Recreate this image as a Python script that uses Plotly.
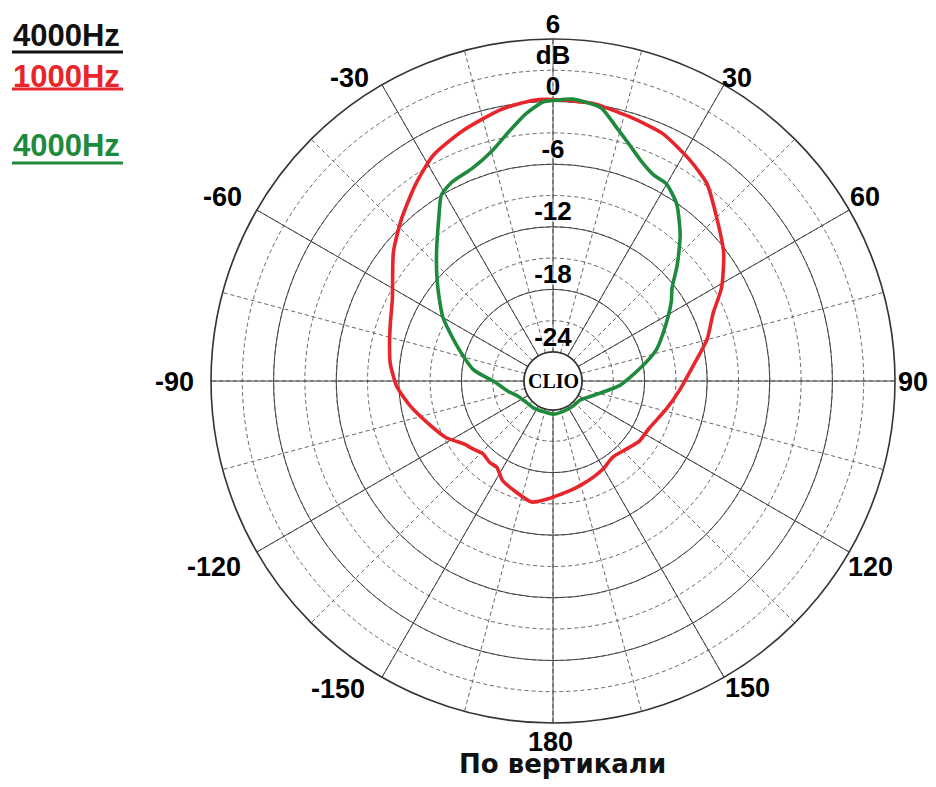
import numpy as np
import plotly.graph_objects as go

# ---------------- data ----------------
red_theta = [0, 8, 16, 24, 32, 38, 45, 53, 61, 67, 75, 84, 94, 104, 116, 125, 133, 142,
             150, 157, 164, 170, 176, 182, 190, 199, 207, 213, 218, 224, 230, 235, 242,
             250, 260, 268, 276, 283, 290, 297, 309, 317, 325, 332, 340, 349, 356, 360]
red_db = [0.2, 0.1, -0.4, -0.85, -1.9, -2.8, -4.6, -6.3, -8.3, -10.1, -11.5, -13.3, -14.6,
          -15.6, -16.5, -16.7, -17.2, -17.5, -17.1, -16.8, -16.5, -16.2, -15.9, -15.5, -15.0,
          -15.6, -16.1, -16.9, -16.9, -17.1, -16.7, -16.3, -15.2, -14.3, -12.9, -11.8, -11.1,
          -10.7, -10.2, -9.5, -7.1, -5.5, -3.8, -2.3, -1.3, -0.3, 0.2, 0.2]

green_theta = [0, 4, 10, 14, 18, 22, 26, 30, 35, 41, 47, 52, 56, 63, 73, 82, 94, 109, 125,
               140, 160, 180, 200, 216, 232, 247, 258, 269, 278, 290, 300, 306, 312, 318, 325,
               329, 333, 339, 345, 350, 354, 358, 360]
green_db = [0.1, 0.3, -0.2, -1.7, -3.0, -4.1, -4.8, -5.0, -6.1, -8.2, -10.5, -12.3, -13.1,
            -14.6, -16.4, -18.4, -20.4, -22.6, -23.6, -23.7, -23.7, -23.6, -23.7, -23.6, -23.5,
            -23.1, -22.3, -21.2, -19.1, -17.0, -14.6, -13.3, -11.8, -10.1, -7.7, -6.0, -5.4,
            -5.0, -4.0, -2.5, -1.1, 0.0, 0.1]

radial_label_r = [6, 3, 0, -6, -12, -18, -24]
radial_label_text = ["6", "dB", "0", "-6", "-12", "-18", "-24"]

angle_ticktext = ["30", "60", "90", "120", "150", "180", "-150", "-120", "-90", "-60", "-30"]

legend_labels = ["4000Hz", "1000Hz", "4000Hz"]
legend_colors = ["#111111", "#e8252b", "#1e8a3c"]

# ---------------- styling / layout ----------------
RED = "#e8252b"
GREEN = "#1e8a3c"
W, H = 920, 771          # figure size (page body has an 8px margin)
OFF = 8                  # page offset of the figure inside the window


def px(x):
    return (x - OFF) / W


def py(y):
    return 1 - (y - OFF) / H


# where the angular labels sit (window pixels, label centres)
angle_label_xy = [(737, 78), (865, 197), (913, 382), (870, 567), (747, 688), (550, 742),
                  (338, 689), (214, 567), (174, 382), (222, 197), (349, 78)]

cx, cy, R = 553, 381, 342
dom_x = [px(cx - R), px(cx + R)]
dom_y = [py(cy + R), py(cy - R)]
hole = 29 / R

fig = go.Figure()

circle_theta = np.linspace(0, 360, 361)
fig.add_trace(go.Scatterpolar(r=np.full_like(circle_theta, -24.0), theta=circle_theta,
                              mode="lines", line=dict(color="#333333", width=1.4),
                              subplot="polar", hoverinfo="skip", showlegend=False))

fig.add_trace(go.Scatterpolar(r=red_db, theta=red_theta, mode="lines",
                              line=dict(color=RED, width=3.6, shape="spline", smoothing=0.6),
                              subplot="polar2", showlegend=False))
fig.add_trace(go.Scatterpolar(r=green_db, theta=green_theta, mode="lines",
                              line=dict(color=GREEN, width=3.6, shape="spline", smoothing=0.6),
                              subplot="polar2", showlegend=False))

fig.add_trace(go.Scatterpolar(r=radial_label_r, theta=[0] * len(radial_label_r),
                              mode="text", text=radial_label_text, textposition="top center",
                              textfont=dict(family="Liberation Sans", size=26, color="black",
                                            weight="bold",
                                            shadow="0 0 3px white, 0 0 3px white, 0 0 2px white"),
                              cliponaxis=False, subplot="polar2", hoverinfo="skip",
                              showlegend=False))

fig.update_layout(
    width=W, height=H,
    margin=dict(l=0, r=0, t=0, b=0),
    paper_bgcolor="white",
    plot_bgcolor="white",
    showlegend=False,
    polar=dict(
        domain=dict(x=dom_x, y=dom_y),
        hole=hole,
        bgcolor="white",
        radialaxis=dict(range=[-24, 6], tick0=0, dtick=3, showticklabels=False, ticks="",
                        showline=False, gridcolor="#666666", gridwidth=1.1, griddash="4px,3px"),
        angularaxis=dict(rotation=90, direction="clockwise", tickmode="linear", tick0=0,
                         dtick=15, showticklabels=False, ticks="", showline=False,
                         gridcolor="#666666", gridwidth=1.1, griddash="4px,3px"),
    ),
    polar2=dict(
        domain=dict(x=dom_x, y=dom_y),
        hole=hole,
        bgcolor="rgba(0,0,0,0)",
        radialaxis=dict(range=[-24, 6], tickmode="array", tickvals=[-18, -12, -6, 0],
                        showticklabels=False, ticks="", showline=False,
                        gridcolor="#444444", gridwidth=1.3, layer="below traces"),
        angularaxis=dict(rotation=90, direction="clockwise", tickmode="linear", tick0=0,
                         dtick=30, showticklabels=False, ticks="",
                         showline=True, linecolor="#333333", linewidth=1.6,
                         gridcolor="#444444", gridwidth=1.3, layer="below traces"),
    ),
)

# angular labels
for lab, (lx, ly) in zip(angle_ticktext, angle_label_xy):
    fig.add_annotation(x=px(lx), y=py(ly), xref="paper", yref="paper", text=lab,
                       showarrow=False, xanchor="center", yanchor="middle",
                       font=dict(family="Liberation Sans", size=27, color="black",
                                 weight="bold"))

# centre label
fig.add_annotation(x=px(cx), y=py(cy), xref="paper", yref="paper", text="CLIO",
                   showarrow=False, xanchor="center", yanchor="middle",
                   font=dict(family="Liberation Serif", size=20, color="black", weight="bold"))

# legend text with underlines
leg_y = [36, 76, 145]
line_y = [52, 89, 163]
for lab, col, ty, ly in zip(legend_labels, legend_colors, leg_y, line_y):
    fig.add_annotation(x=px(11), y=py(ty), xref="paper", yref="paper", text=lab,
                       showarrow=False, xanchor="left", yanchor="middle",
                       font=dict(family="Liberation Sans", size=31, color=col, weight="bold"))
    fig.add_shape(type="line", xref="paper", yref="paper", x0=px(12), x1=px(123),
                  y0=py(ly), y1=py(ly), line=dict(color=col, width=3))

# title at bottom
fig.add_annotation(x=px(562), y=py(764), xref="paper", yref="paper",
                   text="По вертикали", showarrow=False, xanchor="center", yanchor="middle",
                   font=dict(family="DejaVu Sans", size=26, color="#111111", weight="bold"))

fig.write_html("out.html")
